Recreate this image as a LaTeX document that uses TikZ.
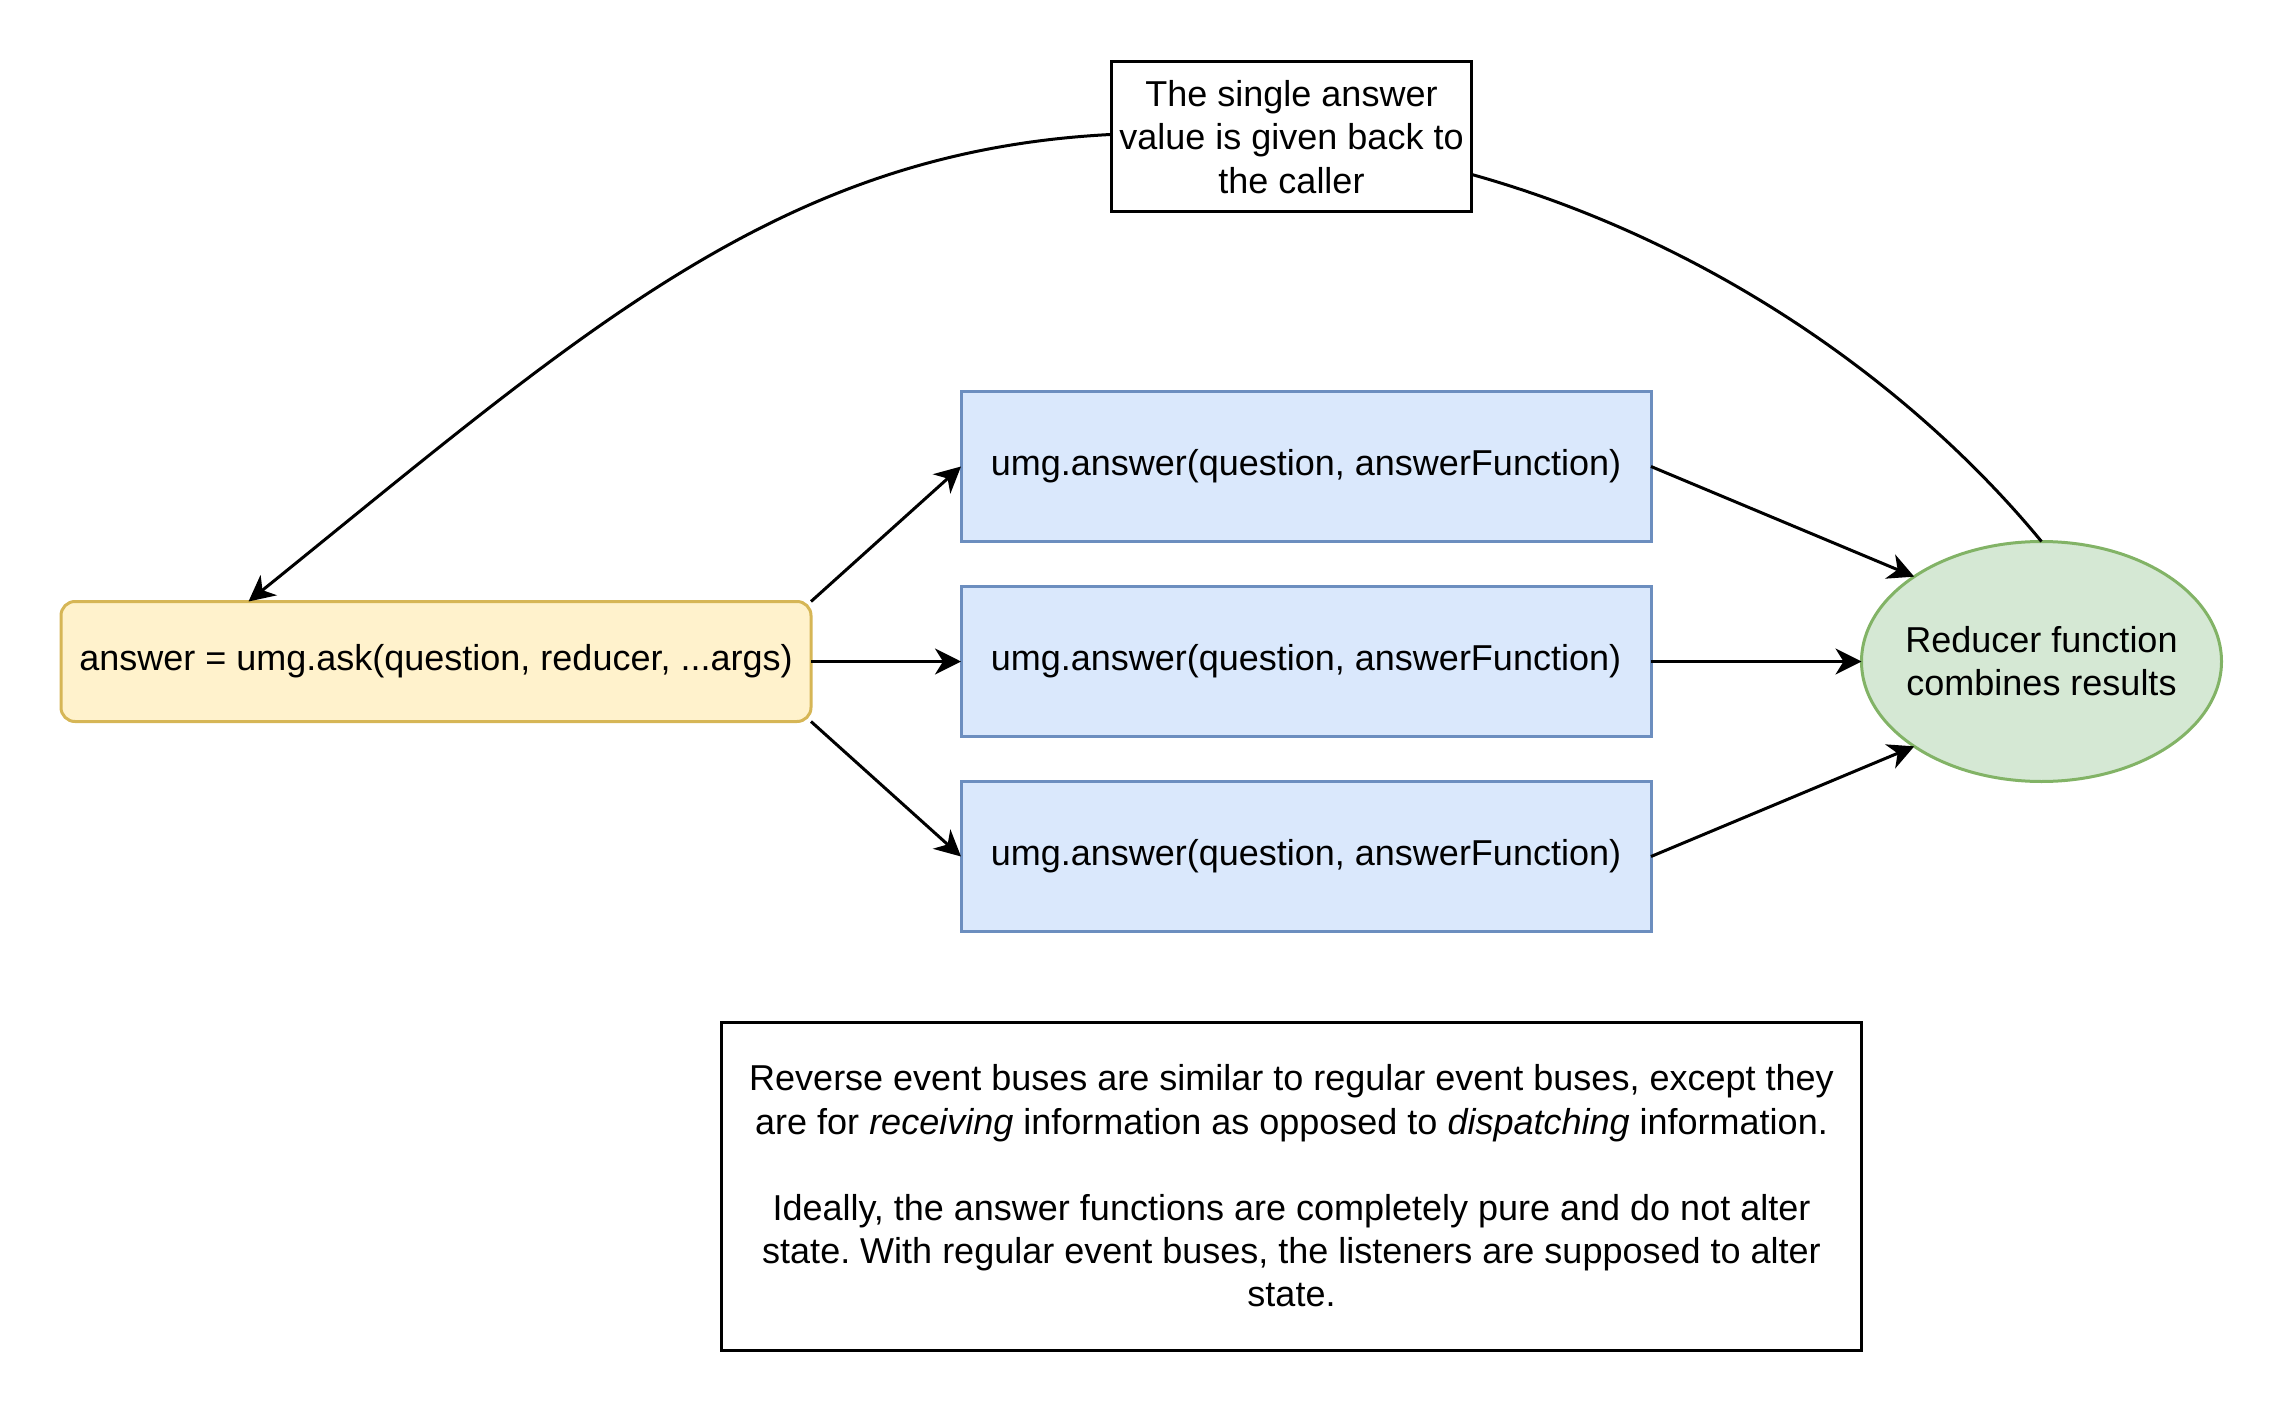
\documentclass[tikz,border=0pt]{standalone}
\usepackage{fontspec}
\setmainfont{Liberation Sans}
\usetikzlibrary{arrows.meta,calc,shapes.geometric}
\definecolor{yelfill}{HTML}{FFF2CC}
\definecolor{yelline}{HTML}{D6B656}
\definecolor{bluefill}{HTML}{DAE8FC}
\definecolor{blueline}{HTML}{6C8EBF}
\definecolor{greenfill}{HTML}{D5E8D4}
\definecolor{greenline}{HTML}{82B366}
\frenchspacing
\begin{document}
\begin{tikzpicture}[x=0.5pt,y=-0.5pt,
  base/.style={line width=1.5pt, font=\fontsize{18}{21.6}\selectfont, align=center, inner sep=0pt, outer sep=0pt},
  yelbox/.style={base, draw=yelline, fill=yelfill, rounded corners=7pt, minimum width=375pt, minimum height=60pt},
  bluebox/.style={base, draw=blueline, fill=bluefill, minimum width=345pt, minimum height=75pt},
  ellbox/.style={base, ellipse, draw=greenline, fill=greenfill, minimum width=180pt, minimum height=120pt},
  lblbox/.style={base, draw=black, fill=white, minimum width=180pt, minimum height=75pt},
  notebox/.style={base, draw=black, fill=white, minimum width=570pt, minimum height=164pt},
  arr/.style={line width=1.5pt, -{Stealth[length=13pt, width=13pt, inset=4pt]}},
  plainline/.style={line width=1.5pt}
]
\useasboundingbox (0,0) rectangle (2283,1413);

\node[yelbox] (yel) at (436,661.5) {answer = umg.ask(question, reducer, ...args)};
\node[bluebox] (b1) at (1306,466.5) {umg.answer(question, answerFunction)};
\node[bluebox] (b2) at (1306,661.5) {umg.answer(question, answerFunction)};
\node[bluebox] (b3) at (1306,856.5) {umg.answer(question, answerFunction)};
\node[ellbox] (ell) at (2041.5,661.5) {\makebox[0pt]{Reducer function}\\\makebox[0pt]{combines results}};

\draw[arr] (yel.north east) -- (b1.west);
\draw[arr] (yel.east) -- (b2.west);
\draw[arr] (yel.south east) -- (b3.west);
\draw[arr] (b1.east) -- (ell.north west);
\draw[arr] (b2.east) -- (ell.west);
\draw[arr] (b3.east) -- (ell.south west);

\coordinate (mid) at (1291,140);
\coordinate (yeltop) at ($(yel.north west)!0.25!(yel.north east)$);
\draw[arr] (ell.north) .. controls (1882,348) and (1611,173) .. (mid)
  .. controls (841,93.7) and (638.5,286.5) .. (yeltop);

\node[lblbox] (lbl) at (1291.5,137) {The single answer\\value is given back to\\the caller};

\node[notebox] (note) at (1291.5,1186) {Reverse event buses are similar to regular event buses, except they\\are for \textit{receiving} information as opposed to \textit{dispatching} information.\\[21.6pt]Ideally, the answer functions are completely pure and do not alter\\state. With regular event buses, the listeners are supposed to alter\\state.};
\end{tikzpicture}
\end{document}
